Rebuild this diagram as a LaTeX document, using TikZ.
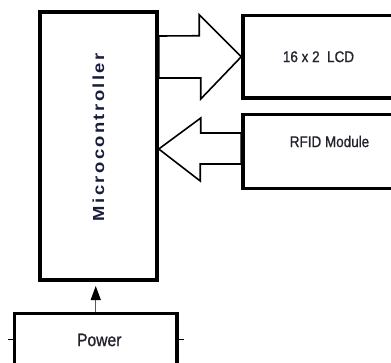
\documentclass[tikz,border=0pt]{standalone}
\usepackage{fontspec}
\setmainfont{Liberation Sans}
\newfontfamily\narrowfont[FakeStretch=0.87,FakeBold=0.9]{Liberation Sans}
\newfontfamily\spacedfont[LetterSpace=15,FakeStretch=1.15]{Liberation Sans}
\usepackage{tikz}
\usetikzlibrary{arrows.meta,calc,backgrounds}
\definecolor{inkdark}{RGB}{35,35,45}
\definecolor{inknavy}{RGB}{25,28,60}
\tikzstyle{box}=[rectangle,draw=black,line width=3.5pt,fill=white,inner sep=0pt]
\tikzstyle{lbl}=[font=\narrowfont\fontsize{15.5}{18}\selectfont,text=inkdark]
\tikzstyle{blockarrow}=[draw=black,line width=1.6pt,fill=white,line join=miter]
\tikzstyle{arrow}=[-{Triangle[length=14pt,width=10pt,color=black]},line width=1.2pt,
  draw=gray!70!black,shorten >=4.5pt]

\begin{document}
\begin{tikzpicture}[x=1pt,y=-1pt]
  \useasboundingbox (0,0) rectangle (391,362);

  % Blocs
  \node[box,minimum width=117pt,minimum height=268pt] (micro) at (98.5,145.75) {};
  \node[rotate=90,font=\spacedfont\bfseries\fontsize{16}{18}\selectfont,text=inknavy]
    (microtxt) at ($(micro.center)+(0,-8.5)$) {Microcontroller};
  \node[box,lbl,minimum width=151pt,minimum height=82.5pt,anchor=west] (lcd) at (241.25,56.75) {16 x 2\ \ LCD};
  \node[box,minimum width=151pt,minimum height=74pt,anchor=west] (rfid) at (241.25,151.5) {};
  \node[lbl] (rfidtxt) at ($(rfid.center)+(11,-10)$) {RFID Module};
  \node[box,minimum width=162.5pt,minimum height=52pt] (power) at (95.75,339.5) {};
  \node[lbl,font=\narrowfont\fontsize{18}{20}\selectfont] (powertxt) at ($(power.center)+(3.5,0.5)$) {Power};

  % Fleches
  \begin{scope}[on background layer]
    \draw[blockarrow] (lcd.west) -- ++(-42,-42) -- ++(0,21) -- (micro.east |- 0,36)
      -- (micro.east |- 0,78) -- ++(42,0) -- ++(0,21) -- cycle;
    \draw[blockarrow] (micro.east |- 0,149) -- ++(42,-31) -- ++(0,15) -- (rfid.west |- 0,133)
      -- (rfid.west |- 0,164) -- ++(-41,0) -- ++(0,17) -- cycle;
  \end{scope}
  \draw[arrow] (power.north) -- (power.north |- micro.south);
  \draw[line width=0.8pt] (power.west) -- ++(-5,0);
  \draw[line width=0.8pt] (power.east) -- ++(5,0);

\end{tikzpicture}
\end{document}
